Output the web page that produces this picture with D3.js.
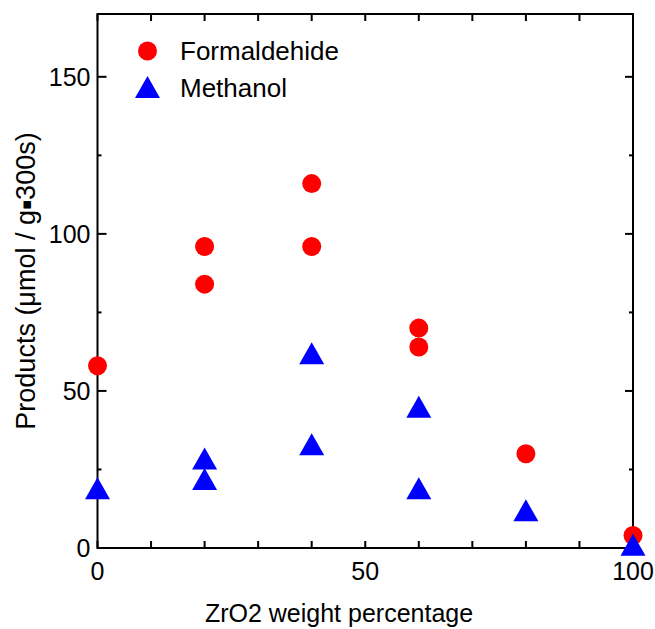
<!DOCTYPE html>
<html>
<head>
<meta charset="utf-8">
<script src="https://cdn.jsdelivr.net/npm/d3@7"></script>
<style>
body { margin: 0; background: #fff; }
text { font-family: "Liberation Sans", Arial, sans-serif; fill: #000; }
</style>
</head>
<body>
<div id="chart"></div>
<script>
// ZrO2 content (wt%) for each measurement
var formX = [0, 20, 20, 40, 40, 60, 60, 80, 100];
var formY = [58, 96, 84, 116, 96, 70, 64, 30, 4];
var methX = [0, 20, 20, 40, 40, 60, 60, 80, 100];
var methY = [19, 28.5, 22, 62, 33, 45, 19, 12, 1];
var yTicks = [0, 50, 100, 150];
var xTicks = [0, 50, 100];

var width = 655, height = 629,
margin = {top: 14, right: 22, bottom: 81, left: 97.5};

var svg = d3.select('#chart').append('svg')
.attr('width', width)
.attr('height', height);

var x = d3.scaleLinear().domain([0, 100]).range([margin.left, width - margin.right]);
var y = d3.scaleLinear().domain([0, 170]).range([height - margin.bottom, margin.top]);

var x0 = x.range()[0], x1 = x.range()[1], y0 = y.range()[0], y1 = y.range()[1];

// ticks all point inward
var minorX = d3.range(0, 101, 10);
var minorY = [25, 75, 125];

var axes = svg.append('g').attr('stroke', '#000').attr('stroke-width', 2);

minorX.forEach(function(v) {
  axes.append('line').attr('x1', x(v)).attr('x2', x(v)).attr('y1', y0).attr('y2', y0 - 7);
  axes.append('line').attr('x1', x(v)).attr('x2', x(v)).attr('y1', y1).attr('y2', y1 + 7);
});
yTicks.forEach(function(v) {
  axes.append('line').attr('x1', x0).attr('x2', x0 + 9).attr('y1', y(v)).attr('y2', y(v));
  axes.append('line').attr('x1', x1).attr('x2', x1 - 8).attr('y1', y(v)).attr('y2', y(v));
});
minorY.forEach(function(v) {
  axes.append('line').attr('x1', x0).attr('x2', x0 + 4).attr('y1', y(v)).attr('y2', y(v));
  axes.append('line').attr('x1', x1).attr('x2', x1 - 4).attr('y1', y(v)).attr('y2', y(v));
});

axes.append('rect')
.attr('x', x0).attr('y', y1)
.attr('width', x1 - x0).attr('height', y0 - y1)
.attr('fill', 'none');

// tick labels
svg.selectAll('.ylab').data(yTicks).enter().append('text')
.attr('class', 'ylab')
.attr('x', x0 - 7)
.attr('y', d => y(d))
.attr('dy', '0.35em')
.attr('text-anchor', 'end')
.style('font-size', '25px')
.text(d => d);

svg.selectAll('.xlab').data(xTicks).enter().append('text')
.attr('class', 'xlab')
.attr('x', d => x(d))
.attr('y', 580)
.attr('text-anchor', 'middle')
.style('font-size', '25px')
.text(d => d);

// axis titles
svg.append('text')
.attr('x', 339)
.attr('y', 622)
.attr('text-anchor', 'middle')
.style('font-size', '25px')
.text('ZrO2 weight percentage');

var ytitle = svg.append('text')
.attr('transform', `translate(35,${(y0 + y1) / 2}) rotate(-90)`)
.attr('text-anchor', 'middle')
.style('font-size', '27px');
ytitle.append('tspan').text('Products (μmol / g');
ytitle.append('tspan').style('font-family', 'DejaVu Sans').style('font-size', '15px').attr('dy', -4).text('▪');
ytitle.append('tspan').attr('dy', 4).text('300s)');

var tri = function(cx, cy) {
  var w = 12.5, h = 11;
  return `M${cx},${cy - h}L${cx + w},${cy + h}L${cx - w},${cy + h}Z`;
};

// Formaldehyde points
svg.selectAll('.form').data(formY).enter().append('circle')
.attr('class', 'form')
.attr('cx', (d, i) => x(formX[i]))
.attr('cy', d => y(d))
.attr('r', 9.5)
.attr('fill', '#ff0000');

// Methanol points
svg.selectAll('.meth').data(methY).enter().append('path')
.attr('class', 'meth')
.attr('d', (d, i) => tri(x(methX[i]), y(d)))
.attr('fill', '#0000ff');

// legend
svg.append('circle').attr('cx', 147.5).attr('cy', 51).attr('r', 9.5).attr('fill', '#ff0000');
svg.append('path').attr('d', tri(147.5, 87)).attr('fill', '#0000ff');
svg.append('text').attr('x', 180).attr('y', 60).style('font-size', '26px').text('Formaldehide');
svg.append('text').attr('x', 180).attr('y', 97).style('font-size', '26px').text('Methanol');
</script>
</body>
</html>
